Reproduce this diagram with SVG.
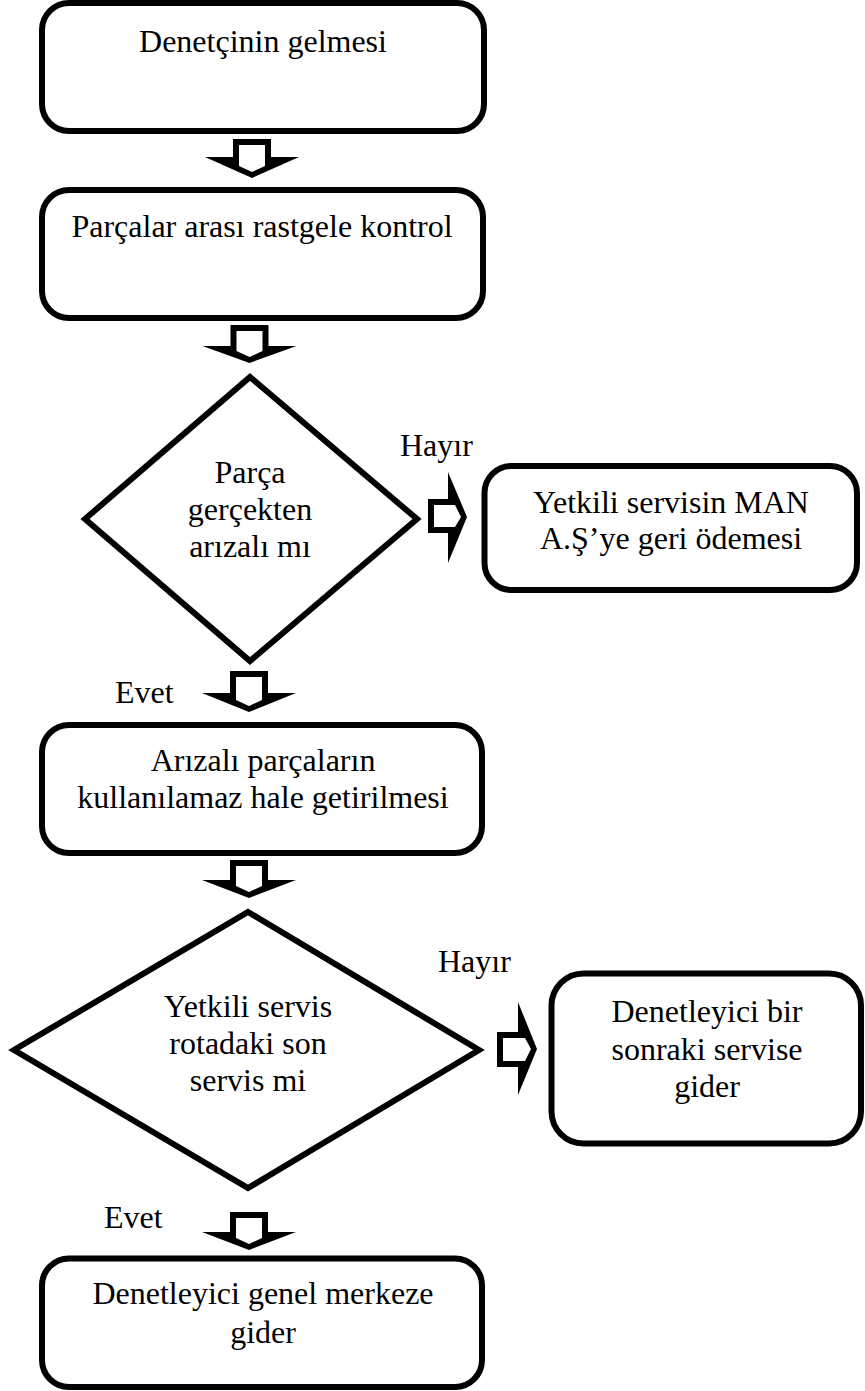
<svg xmlns="http://www.w3.org/2000/svg" width="865" height="1391" viewBox="0 0 865 1391">
  <style>
    .box { fill: #fff; stroke: #000; stroke-width: 6; stroke-linejoin: miter; }
    .t { font-family: "Liberation Serif", "Times New Roman", serif; font-size: 32px; fill: #000; text-anchor: middle; }
    .lbl { font-family: "Liberation Serif", "Times New Roman", serif; font-size: 32px; fill: #000; }
    .ao { fill: #000; }
    .ai { fill: #fff; }
  </style>
  <rect width="865" height="1391" fill="#fff"/>

  <!-- process steps and decisions -->
  <g id="n1">
    <rect class="box" x="42" y="3" width="442" height="128" rx="27"/>
    <text class="t" x="263" y="52">Denetçinin gelmesi</text>
  </g>
  <g id="n2">
    <rect class="box" x="42" y="190" width="441" height="128" rx="27"/>
    <text class="t" x="262" y="237">Parçalar arası rastgele kontrol</text>
  </g>
  <g id="n3">
    <polygon class="box" points="250,377 417,519 250,661 85,519"/>
    <text class="t" x="250" y="483">Parça</text>
    <text class="t" x="250" y="520">gerçekten</text>
    <text class="t" x="250" y="557">arızalı mı</text>
  </g>
  <g id="n4">
    <rect class="box" x="484.5" y="466" width="372.5" height="124" rx="27"/>
    <text class="t" x="671" y="513">Yetkili servisin MAN</text>
    <text class="t" x="671" y="549">A.Ş’ye geri ödemesi</text>
  </g>
  <g id="n5">
    <rect class="box" x="42" y="725" width="440" height="128" rx="27"/>
    <text class="t" x="263" y="771">Arızalı parçaların</text>
    <text class="t" x="263" y="808">kullanılamaz hale getirilmesi</text>
  </g>
  <g id="n6">
    <polygon class="box" points="248,912 479,1050 248,1188 14,1050"/>
    <text class="t" x="248" y="1017">Yetkili servis</text>
    <text class="t" x="248" y="1054">rotadaki son</text>
    <text class="t" x="248" y="1091">servis mi</text>
  </g>
  <g id="n7">
    <rect class="box" x="551.5" y="973.5" width="309.5" height="170" rx="32"/>
    <text class="t" x="707" y="1022">Denetleyici bir</text>
    <text class="t" x="707" y="1060">sonraki servise</text>
    <text class="t" x="707" y="1097">gider</text>
  </g>
  <g id="n8">
    <rect class="box" x="42" y="1258.5" width="440" height="128.5" rx="27"/>
    <text class="t" x="263" y="1304">Denetleyici genel merkeze</text>
    <text class="t" x="263" y="1343">gider</text>
  </g>

  <!-- block arrows between steps, with branch labels -->
  <g id="connectors">
    <!-- n1 -> n2 -->
    <path class="ao" d="M233,139 H271 V157 H299 L252,178 L205,157 H233 Z"/>
    <path class="ai" d="M239,145 H265 V166 L252,172 L239,166 Z"/>
    <!-- n2 -> n3 -->
    <path class="ao" d="M230.5,325 H268.5 V346 H296.5 L249.5,363 L202.5,346 H230.5 Z"/>
    <path class="ai" d="M236.5,331 H262.5 V351 L249.5,357 L236.5,351 Z"/>
    <!-- n3 -> n4 (Hayır) -->
    <path class="ao" d="M428,499 H448 V472 L467,517 L448,563 V533 H428 Z"/>
    <path class="ai" d="M434,505 H455 L461,517 L455,527 H434 Z"/>
    <text class="lbl" x="400" y="456">Hayır</text>
    <!-- n3 -> n5 (Evet) -->
    <path class="ao" d="M230,671 H268 V693 H296 L249,712 L202,693 H230 Z"/>
    <path class="ai" d="M236,677 H262 V700 L249,706 L236,700 Z"/>
    <text class="lbl" x="115" y="703">Evet</text>
    <!-- n5 -> n6 -->
    <path class="ao" d="M230,860 H268 V880 H296 L249,898 L202,880 H230 Z"/>
    <path class="ai" d="M236,866 H262 V886 L249,892 L236,886 Z"/>
    <!-- n6 -> n7 (Hayır) -->
    <path class="ao" d="M497,1032 H518 V1002 L537,1049 L518,1095 V1067 H497 Z"/>
    <path class="ai" d="M503,1038 H525 L531,1049 L525,1061 H503 Z"/>
    <text class="lbl" x="438" y="972">Hayır</text>
    <!-- n6 -> n8 (Evet) -->
    <path class="ao" d="M230,1212 H268 V1232 H296 L249,1250 L202,1232 H230 Z"/>
    <path class="ai" d="M236,1218 H262 V1238 L249,1244 L236,1238 Z"/>
    <text class="lbl" x="104" y="1228">Evet</text>
  </g>
</svg>
